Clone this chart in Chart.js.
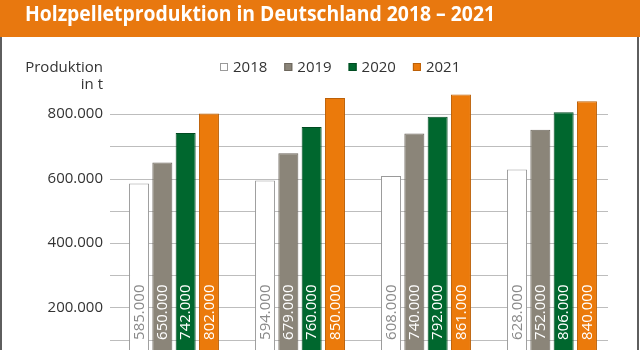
<!DOCTYPE html>
<html>
<head>
<meta charset="utf-8">
<script src="https://cdn.jsdelivr.net/npm/chart.js@4.4.1/dist/chart.umd.min.js"></script>
<style>
  html, body { margin: 0; padding: 0; background: #ffffff; }
  #wrap { position: relative; width: 640px; height: 350px; overflow: hidden; }
  canvas { display: block; }
</style>
</head>
<body>
<div id="wrap"><canvas id="c" width="640" height="350"></canvas></div>
<script>
// ---- data ----
const titleText = "Holzpelletproduktion in Deutschland 2018 \u2013 2021";
const axisTitle = ["Produktion", "in t"];
const categories = ["1. Quartal", "2. Quartal", "3. Quartal", "4. Quartal"];
const seriesNames = ["2018", "2019", "2020", "2021"];
const v2018 = [585000, 594000, 608000, 628000];
const v2019 = [650000, 679000, 740000, 752000];
const v2020 = [742000, 760000, 792000, 806000];
const v2021 = [802000, 850000, 861000, 840000];
const gridValues = [100000, 200000, 300000, 400000, 500000, 600000, 700000, 800000];
const labeledTicks = [200000, 400000, 600000, 800000];

// ---- styles ----
const FONT = '"Open Sans", "Noto Sans", sans-serif';
const ORANGE_HEAD = '#E8780F';
const fills = ['#FFFFFF', '#8B8579', '#00672E', '#EB7A0B'];
const borders = ['#9A9A9A', '#6C665C', '#004B21', '#BC6007'];
const labelColors = ['#8A8A8A', '#FFFFFF', '#FFFFFF', '#FFFFFF'];
const TEXT = '#333333';

function fmt(n) { return String(n).replace(/\B(?=(\d{3})+(?!\d))/g, '.'); }

const seriesValues = [v2018, v2019, v2020, v2021];
const datasets = seriesNames.map((name, i) => ({
  label: name,
  data: seriesValues[i],
  backgroundColor: fills[i],
  borderColor: borders[i],
  borderWidth: 1,
  categoryPercentage: 0.74,
  barPercentage: 0.858
}));

const decor = {
  id: 'decor',
  beforeDraw(chart) {
    const ctx = chart.ctx;
    ctx.save();
    // header band
    ctx.fillStyle = ORANGE_HEAD;
    ctx.fillRect(0, 0, 640, 37);
    ctx.font = 'bold 22px ' + FONT;
    const w = ctx.measureText(titleText).width;
    const sx = 470 / w;
    ctx.translate(25, 20.5);
    ctx.scale(sx, 1);
    ctx.fillStyle = '#FFFFFF';
    ctx.textBaseline = 'alphabetic';
    ctx.textAlign = 'left';
    ctx.fillText(titleText, 0, 0);
    ctx.restore();
    // frame lines
    ctx.save();
    ctx.fillStyle = '#5E5E5E';
    ctx.fillRect(0, 37, 2, 313);
    ctx.fillRect(637, 37, 2, 313);
    ctx.restore();
  },
  beforeDatasetsDraw(chart) {
    const ctx = chart.ctx;
    const y = chart.scales.y;
    const a = chart.chartArea;
    ctx.save();
    ctx.strokeStyle = '#BDBDBD';
    ctx.lineWidth = 1;
    y.ticks.forEach(t => {
      const py = Math.round(y.getPixelForValue(t.value)) + 0.5;
      ctx.beginPath();
      ctx.moveTo(a.left - 1, py);
      ctx.lineTo(a.right - 7, py);
      ctx.stroke();
    });
    ctx.restore();
  },
  afterDatasetsDraw(chart) {
    const ctx = chart.ctx;
    const y = chart.scales.y;
    const base = y.getPixelForValue(0) - 32;
    ctx.save();
    ctx.font = '15px ' + FONT;
    ctx.textAlign = 'left';
    ctx.textBaseline = 'middle';
    chart.data.datasets.forEach((ds, di) => {
      const meta = chart.getDatasetMeta(di);
      meta.data.forEach((bar, i) => {
        ctx.save();
        ctx.translate(bar.x + 0.5, base);
        ctx.rotate(-Math.PI / 2);
        ctx.fillStyle = labelColors[di];
        ctx.fillText(fmt(ds.data[i]), 0, 0);
        ctx.restore();
      });
    });
    ctx.restore();
  },
  afterDraw(chart) {
    const ctx = chart.ctx;
    ctx.save();
    // axis title
    ctx.font = '15px ' + FONT;
    ctx.fillStyle = TEXT;
    ctx.textAlign = 'right';
    ctx.textBaseline = 'alphabetic';
    ctx.fillText(axisTitle[0], 103, 72);
    ctx.fillText(axisTitle[1], 103, 89);
    // legend
    ctx.textAlign = 'left';
    ctx.textBaseline = 'middle';
    chart.data.datasets.forEach((ds, i) => {
      const x0 = 220 + i * 64.3;
      ctx.fillStyle = ds.backgroundColor;
      ctx.fillRect(x0, 63, 8, 8);
      ctx.strokeStyle = ds.borderColor;
      ctx.lineWidth = 1;
      ctx.strokeRect(x0 + 0.5, 63.5, 7, 7);
      ctx.fillStyle = TEXT;
      ctx.fillText(ds.label, x0 + 13, 67.5);
    });
    ctx.restore();
  }
};

new Chart(document.getElementById('c'), {
  type: 'bar',
  data: { labels: categories, datasets },
  options: {
    responsive: false,
    animation: false,
    devicePixelRatio: 1,
    layout: { padding: { top: 82, right: 25, left: 0, bottom: 0 } },
    plugins: { legend: { display: false }, title: { display: false }, tooltip: { enabled: false } },
    scales: {
      x: { display: false },
      y: {
        min: 68000,
        max: 900000,
        border: { display: false },
        grid: { display: false, drawTicks: false },
        afterBuildTicks: (s) => { s.ticks = gridValues.map(v => ({ value: v })); },
        afterFit: (s) => { s.width = 111; s.paddingTop = 0; s.paddingBottom = 0; },
        ticks: {
          padding: 8,
          color: TEXT,
          font: { family: FONT, size: 15 },
          callback: (v) => labeledTicks.includes(v) ? fmt(v) : ''
        }
      }
    }
  },
  plugins: [decor]
});
</script>
</body>
</html>
